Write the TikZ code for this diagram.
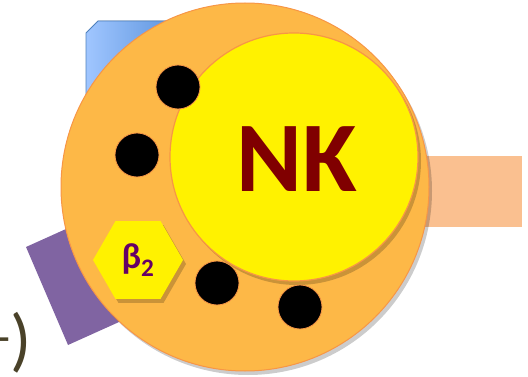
\documentclass[tikz,border=0pt]{standalone}
\usepackage{fontspec}
\setmainfont{Carlito}
\usetikzlibrary{shapes.geometric,shadows}
\definecolor{orfill}{HTML}{FDB847}
\definecolor{oredge}{HTML}{F79646}
\definecolor{bluel}{HTML}{A0C6FF}
\definecolor{blued}{HTML}{5A92DC}
\definecolor{blueedge}{HTML}{4F81BD}
\definecolor{purp}{HTML}{8064A2}
\definecolor{peach}{HTML}{FAC090}
\definecolor{olive}{HTML}{4A4229}
\definecolor{maroon}{HTML}{800000}
\definecolor{betacol}{HTML}{660066}
\tikzset{
  dot/.style={circle,fill=black,draw=oredge,line width=0.8pt,minimum size=44pt,inner sep=0pt},
  shad/.style={drop shadow={shadow xshift=3pt,shadow yshift=-4pt,opacity=0.2,fill=black}},
}
\begin{document}
\begin{tikzpicture}[x=1pt,y=-1pt]
\useasboundingbox (0,0) rectangle (528,377);
% background shapes
\fill[left color=bluel,right color=blued,draw=blueedge,line width=0.8pt]
  (86,33) -- (98,21) -- (180,21) -- (180,120) -- (86,120) -- cycle;
\fill[purp] (26,247) -- (68,345) -- (159,304) -- (117,206) -- cycle;
\fill[peach] (380,156) rectangle (522,227);
\node[anchor=base east,text=olive,font=\fontsize{70}{70}\selectfont,inner sep=0pt] (paren) at (32,363) {\textsuperscript{-})};
% main cell
\node[circle,fill=orfill,draw=oredge,line width=1pt,minimum size=368pt,inner sep=0pt,shad] (cell) at (245,187) {};
\node[circle,fill=yellow,draw=oredge,line width=1.2pt,minimum size=248pt,inner sep=0pt,shad] (nk) at (294,157) {};
\node[anchor=base,text=maroon,font=\fontsize{100}{100}\selectfont\bfseries,inner sep=0pt] (nklabel) at (297,192) {NK};
\node[dot] (d1) at (178,87) {};
\node[dot] (d2) at (137,155) {};
\node[dot] (d3) at (217,283) {};
\node[dot] (d4) at (300,307) {};
\node[regular polygon,regular polygon sides=6,minimum size=90pt,inner sep=0pt,fill=yellow,shad,
  text=betacol,font=\fontsize{36}{36}\selectfont\bfseries] (hex) at (138,260) {β\textsubscript{2}};
\end{tikzpicture}
\end{document}
